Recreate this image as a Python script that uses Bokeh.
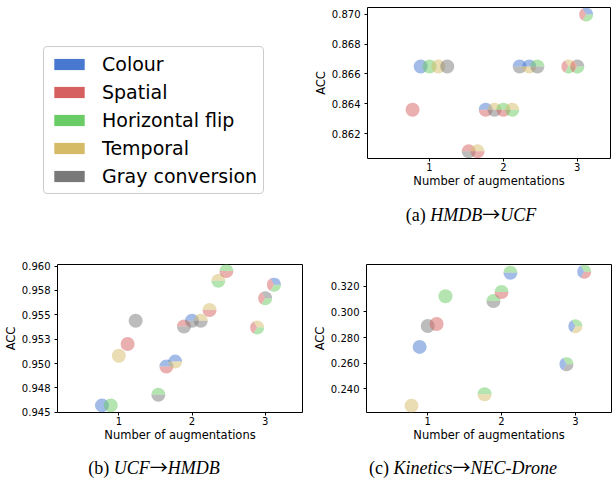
import math
from bokeh.plotting import figure
from bokeh.models import ColumnDataSource, FixedTicker, Legend, LegendItem, Range1d, Div
from bokeh.layouts import row, column
from bokeh.embed import file_html
from bokeh.resources import INLINE

# ---------------- data ----------------
AUG_CODES = ["C", "S", "H", "T", "G"]
AUG_NAMES = ["Colour", "Spatial", "Horizontal flip", "Temporal", "Gray conversion"]
AUG_COLORS = ["#4878d0", "#d65f5f", "#6acc64", "#d5bb67", "#797979"]

x_ticks = [1, 2, 3]

# (a) HMDB -> UCF
a_source, a_target = "HMDB", "UCF"
a_x = [0.77, 0.88, 1.00, 1.12, 1.24, 1.53, 1.65, 1.76, 1.88, 2.00, 2.12, 2.22, 2.35, 2.46, 2.88, 3.00, 3.12]
a_acc = [0.8636, 0.8665, 0.8665, 0.8665, 0.8665, 0.8608, 0.8608, 0.8636, 0.8636, 0.8636, 0.8636,
         0.8665, 0.8665, 0.8665, 0.8665, 0.8665, 0.8700]
a_combo = ["S", "C", "H", "T", "G", "SG", "TS", "CS", "TG", "HS", "TH", "CG", "CT", "HG", "TSH", "GSH", "CSH"]
a_yticks = [0.862, 0.864, 0.866, 0.868, 0.870]
a_ylabels = ["0.862", "0.864", "0.866", "0.868", "0.870"]

# (b) UCF -> HMDB
b_source, b_target = "UCF", "HMDB"
b_x = [0.77, 0.89, 1.00, 1.12, 1.23, 1.54, 1.65, 1.77, 1.89, 2.00, 2.12, 2.24, 2.36, 2.47, 2.89, 3.00, 3.12]
b_acc = [0.9457, 0.9457, 0.9508, 0.9520, 0.9544, 0.9468, 0.9497, 0.9502, 0.9538, 0.9544, 0.9544,
         0.9555, 0.9585, 0.9595, 0.9537, 0.9567, 0.9581]
b_combo = ["C", "H", "T", "S", "G", "HG", "CS", "CT", "SG", "CG", "TG", "TS", "TH", "HS", "TSH", "GSH", "CSH"]
b_yticks = [0.945, 0.9475, 0.95, 0.9525, 0.955, 0.9575, 0.96]
b_ylabels = ["0.945", "0.948", "0.950", "0.953", "0.955", "0.958", "0.960"]

# (c) Kinetics -> NEC-Drone
c_source, c_target = "Kinetics", "NEC-Drone"
c_x = [0.78, 0.89, 1.00, 1.12, 1.24, 1.77, 1.89, 2.00, 2.12, 2.88, 3.00, 3.12]
c_acc = [0.2267, 0.2727, 0.2890, 0.2906, 0.3123, 0.2357, 0.3085, 0.3156, 0.3307, 0.2592, 0.2888, 0.3315]
c_combo = ["T", "C", "G", "S", "H", "HT", "HG", "HS", "HC", "HCG", "HCT", "HCS"]
c_yticks = [0.24, 0.26, 0.28, 0.30, 0.32]
c_ylabels = ["0.240", "0.260", "0.280", "0.300", "0.320"]

# ---------------- helpers ----------------
COLOR_OF = dict(zip(AUG_CODES, AUG_COLORS))
FONT = "DejaVu Sans"


def make_panel(xs, accs, combos, x_range, y_range, yticks, ylabels,
               width, height, mbl, mbr, mbt, mbb):
    p = figure(width=width, height=height, output_backend="svg", toolbar_location=None,
               x_range=Range1d(*x_range), y_range=Range1d(*y_range), title=None,
               min_border_left=mbl, min_border_right=mbr, min_border_top=mbt,
               min_border_bottom=mbb)
    p.grid.visible = False
    p.outline_line_color = "black"
    p.outline_line_width = 1
    p.outline_line_alpha = 1
    p.background_fill_color = "white"
    p.border_fill_color = "white"

    single = dict(x=[], y=[], color=[])
    wed = dict(x=[], y=[], start=[], end=[], color=[])
    for x, y, combo in zip(xs, accs, combos):
        k = len(combo)
        if k == 1:
            single["x"].append(x)
            single["y"].append(y)
            single["color"].append(COLOR_OF[combo])
        else:
            for j, code in enumerate(combo):
                wed["x"].append(x)
                wed["y"].append(y)
                wed["start"].append(2 * math.pi * j / k)
                wed["end"].append(2 * math.pi * (j + 1) / k)
                wed["color"].append(COLOR_OF[code])

    p.scatter(x="x", y="y", size=14, marker="circle", fill_color="color", fill_alpha=0.5,
              line_color=None, source=ColumnDataSource(single))
    p.wedge(x="x", y="y", radius=7, radius_units="screen", start_angle="start",
            end_angle="end", fill_color="color", fill_alpha=0.5, line_color=None,
            source=ColumnDataSource(wed))

    for ax in (p.xaxis[0], p.yaxis[0]):
        ax.axis_line_color = None
        ax.major_tick_line_color = "black"
        ax.major_tick_out = 3
        ax.major_tick_in = 0
        ax.minor_tick_line_color = None
        ax.major_label_text_font = FONT
        ax.major_label_text_font_size = "10px"
        ax.major_label_text_color = "black"
        ax.axis_label_text_font = FONT
        ax.axis_label_text_font_size = "11.5px"
        ax.axis_label_text_font_style = "normal"
        ax.axis_label_text_color = "black"
    p.xaxis.axis_label = "Number of augmentations"
    p.yaxis.axis_label = "ACC"
    p.xaxis.ticker = FixedTicker(ticks=x_ticks)
    p.yaxis.ticker = FixedTicker(ticks=yticks)
    p.yaxis.major_label_overrides = {t: l for t, l in zip(yticks, ylabels)}
    p.xaxis.major_label_standoff = 1
    p.yaxis.major_label_standoff = 4
    p.xaxis.axis_label_standoff = 0
    p.yaxis.axis_label_standoff = 1
    return p


def caption(letter, src, dst, width, height, pad_left, pad_top):
    style = ("font-family:'Liberation Serif','Times New Roman',serif;font-size:18px;"
             "line-height:20px;color:black;white-space:nowrap;text-align:center;"
             f"box-sizing:border-box;width:{width}px;"
             f"padding-left:{pad_left}px;padding-top:{pad_top}px;")
    arrow = "<span style=\"font-family:'Noto Sans CJK SC';font-style:normal;\">→</span>"
    return Div(text=f'<div style="{style}">({letter}) <i>{src}</i>{arrow}<i>{dst}</i></div>',
               width=width, height=height, margin=(0, 0, 0, 0))


# ---------------- legend ----------------
leg = figure(width=308, height=228, output_backend="svg", toolbar_location=None,
             x_axis_type=None, y_axis_type=None, title=None,
             min_border_left=43, min_border_top=46, min_border_right=0, min_border_bottom=0)
leg.outline_line_color = None
leg.grid.visible = False
items = []
for name, color in zip(AUG_NAMES, AUG_COLORS):
    # hidden proxy renderer: only its legend swatch is shown
    r = leg.quad(left=[0], right=[1], top=[1], bottom=[0], fill_color=color, line_color=None)
    r.visible = False
    items.append(LegendItem(label=name, renderers=[r]))
legend = Legend(items=items, location="top_left", margin=0, padding=6, spacing=6,
                glyph_width=38, glyph_height=14, label_height=22, label_standoff=14,
                label_text_font=FONT, label_text_font_size="19px", label_text_color="black",
                border_line_color="#cccccc", border_line_width=1, border_line_alpha=1,
                background_fill_color="white", background_fill_alpha=1, click_policy="none")
if "border_radius" in Legend.properties():
    legend.border_radius = 4
leg.add_layout(legend, "center")

# ---------------- panels ----------------
pa = make_panel(a_x, a_acc, a_combo, (0.16, 3.45), (0.86032, 0.87047), a_yticks, a_ylabels,
                width=304, height=198, mbl=59, mbr=2, mbt=7, mbb=40)
pb = make_panel(b_x, b_acc, b_combo, (0.162, 3.51), (0.94497, 0.96017), b_yticks, b_ylabels,
                width=308, height=224, mbl=56, mbr=6, mbt=36, mbb=40)
pc = make_panel(c_x, c_acc, c_combo, (0.17, 3.49), (0.2214, 0.3371), c_yticks, c_ylabels,
                width=305, height=224, mbl=58, mbr=2, mbt=33, mbb=40)

cap_a = caption("a", a_source, a_target, 304, 30, 22, 5)
cap_b = caption("b", b_source, b_target, 308, 30, 0, 4)
cap_c = caption("c", c_source, c_target, 305, 30, 5, 4)

layout = column(
    row(leg, column(pa, cap_a)),
    row(pb, pc),
    row(cap_b, cap_c),
)

with open("out.html", "w") as f:
    f.write(file_html(layout, INLINE))
